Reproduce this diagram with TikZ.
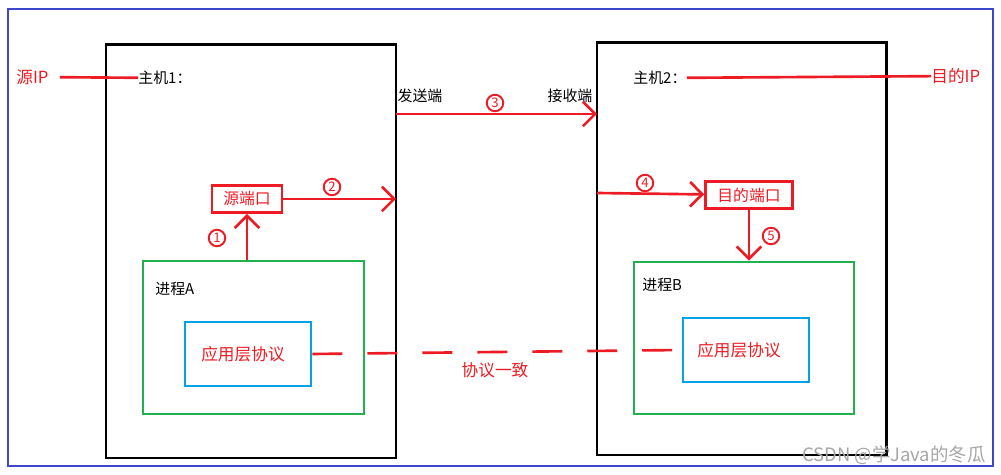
\documentclass[tikz,border=0pt]{standalone}
\usepackage{fontspec}
\newfontfamily\cjk{Noto Sans CJK SC}
\usetikzlibrary{fit,arrows.meta}
\definecolor{myred}{RGB}{237,28,36}
\definecolor{mygreen}{RGB}{34,177,76}
\definecolor{mycyan}{RGB}{0,162,232}
\definecolor{myblue}{RGB}{63,72,204}
\tikzset{%
    hostbox/.style={draw=black,line width=1.7pt,inner sep=0pt},
    procbox/.style={draw=mygreen,line width=1.5pt,inner sep=0pt},
    appbox/.style={draw=mycyan,line width=1.5pt,inner sep=0pt},
    portbox/.style={draw=myred,line width=1.5pt,text=myred,font=\cjk\fontsize{9}{10}\selectfont,inner sep=2pt,minimum height=0.54cm},
    lbl/.style={font=\cjk\fontsize{8.5}{10}\selectfont,inner sep=0pt},
    redlbl/.style={lbl,text=myred},
    num/.style={circle,draw=myred,line width=1.1pt,minimum size=0.33cm,inner sep=0pt,font=\cjk\fontsize{7.5}{8}\selectfont,text=myred},
    redline/.style={draw=myred,line width=1.5pt},
    redarrow/.style={redline,-{Straight Barb[length=7pt,width=14pt]}}
}
\begin{document}
\begin{tikzpicture}[x=0.02cm,y=-0.02cm]
        \useasboundingbox (0,0) rectangle (1001,475);
        \draw[myblue,line width=1.4pt] (8,9) rectangle (993,466);

        % hosts
        \node[hostbox,fit={(106,45) (396,458)}] (h1) {};
        \node[hostbox,fit={(597,43) (886,455)}] (h2) {};
        \node[procbox,fit={(143,261) (364,414)}] (pA) {};
        \node[procbox,fit={(634,262) (854,414)}] (pB) {};
        \node[appbox,fit={(185,322) (311,386)}] (appA) {};
        \node[appbox,fit={(683,318) (809,382)}] (appB) {};

        \node[lbl,anchor=west] (h1lbl) at (138,78) {主机1：};
        \node[lbl,anchor=west] (h2lbl) at (633,78) {主机2：};
        \node[redlbl,anchor=west,font=\cjk\fontsize{9.5}{10}\selectfont] (sip) at (16,77) {源IP};
        \node[redlbl,anchor=west,font=\cjk\fontsize{9.5}{10}\selectfont] (dip) at (931,76) {目的IP};
        \node[lbl,anchor=west] (pAlbl) at (155,289) {进程A};
        \node[lbl,anchor=west] (pBlbl) at (642,285) {进程B};
        \node[lbl] (snd) at (420,96) {发送端};
        \node[lbl] (rcv) at (570,96) {接收端};
        \node[redlbl,font=\cjk\fontsize{9.5}{10}\selectfont] (appAt) at (243,354) {应用层协议};
        \node[redlbl,font=\cjk\fontsize{9.5}{10}\selectfont] (appBt) at (739,350) {应用层协议};
        \node[redlbl,font=\cjk\fontsize{9.5}{10}\selectfont] (same) at (495,370) {协议一致};

        \node[portbox,minimum width=1.4cm] (sport) at (247,199) {源端口};
        \node[portbox,minimum width=1.74cm] (dport) at (749,195) {目的端口};

        \coordinate (out2) at (396,199);
        \coordinate (snd3) at (396,114);
        \coordinate (rcv3) at (597,114);
        \coordinate (in4) at (597,193);

        \node[num] (n1) at (217,238) {1};
        \node[num] (n2) at (332,187) {2};
        \node[num] (n3) at (495,103) {3};
        \node[num] (n4) at (645,183) {4};
        \node[num] (n5) at (771,236) {5};

        \draw[redline,shorten <=0.22cm] (sip) -- (h1lbl);
        \draw[redline] (h2lbl) -- (dip);
        \draw[redarrow] (sport.south |- pA.north) -- (sport.south);
        \draw[redarrow] (sport) -- (out2);
        \draw[redarrow] (snd3) -- (rcv3);
        \draw[redarrow] (in4) -- (dport);
        \draw[redarrow] (dport) -- (dport.south |- pB.north);
        \draw[redline,dash pattern=on 0.6cm off 0.5cm] (appA.east) -- (appB.west);

        \node[font=\cjk\fontsize{10.5}{11}\selectfont,text=gray!70,anchor=east,inner sep=0pt] (wm) at (986,455) {CSDN @学Java的冬瓜};
    \end{tikzpicture}
\end{document}
